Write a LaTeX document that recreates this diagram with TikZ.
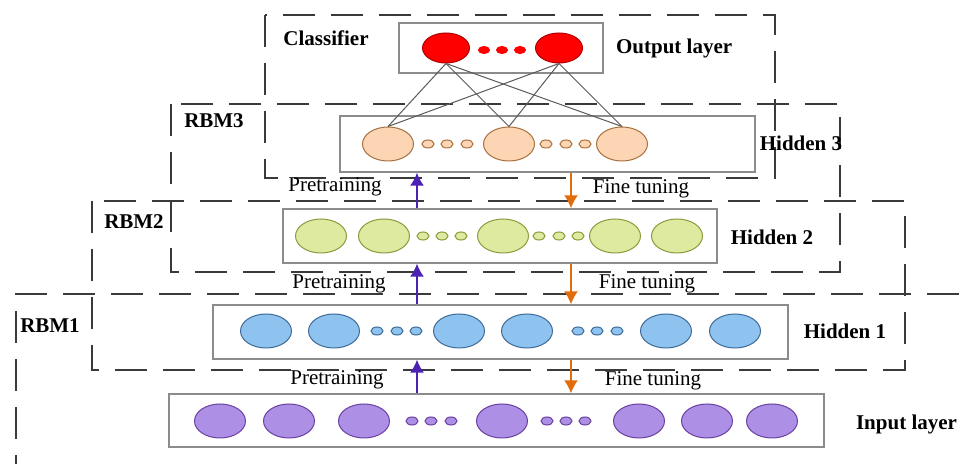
\documentclass[tikz,border=0pt]{standalone}
\usepackage{fontspec}
\setmainfont{Liberation Serif}
\usetikzlibrary{shapes.geometric,arrows.meta}

\definecolor{frame}{HTML}{3A3A3A}
\definecolor{boxline}{HTML}{8C8C8C}
\definecolor{wire}{HTML}{5A5A5A}
\definecolor{outfill}{HTML}{FF0000}
\definecolor{outline}{HTML}{B00000}
\definecolor{hthreefill}{HTML}{FCD5B4}
\definecolor{hthreeline}{HTML}{A8703C}
\definecolor{htwofill}{HTML}{DDEAA0}
\definecolor{htwoline}{HTML}{8A9A3C}
\definecolor{honefill}{HTML}{8FC3EF}
\definecolor{honeline}{HTML}{3D6A96}
\definecolor{infill}{HTML}{AD90E6}
\definecolor{inline}{HTML}{6A3FA0}
\definecolor{pre}{HTML}{4B22B4}
\definecolor{fine}{HTML}{E36C0A}

\tikzset{
  rbm/.style={draw=frame,line width=1pt,dash pattern=on 16pt off 8pt},
  layer/.style={draw=boxline,line width=0.7pt,fill=white,inner sep=0pt},
  unit/.style={ellipse,line width=0.5pt,inner sep=0pt,minimum width=25.5pt,minimum height=17pt},
  dotunit/.style={ellipse,line width=0.5pt,inner sep=0pt,minimum width=6pt,minimum height=4pt},
  tag/.style={font=\fontsize{10.5}{12}\selectfont\bfseries},
  note/.style={font=\fontsize{10.5}{12}\selectfont},
  up/.style={-{Latex[length=6.5pt,width=7pt]},draw=pre,line width=0.8pt},
  down/.style={-{Latex[length=6.5pt,width=7pt]},draw=fine,line width=0.8pt},
}

\begin{document}
\begin{tikzpicture}[x=0.5pt,y=-0.5pt]
\useasboundingbox (0,0) rectangle (959,464);

\draw [rbm] (265,15) rectangle (775,178);
\draw [rbm] (171,104) rectangle (840,272);
\draw [rbm] (92,201) rectangle (905,370);
\draw [rbm] (959,294) -- (16,294) -- (16,464);

\node [layer,minimum width=102pt,minimum height=25pt] (outbox) at (501,48) {};
\node [layer,minimum width=207.5pt,minimum height=28pt] (h3box) at (547.5,144) {};
\node [layer,minimum width=217pt,minimum height=27pt] (h2box) at (500,236) {};
\node [layer,minimum width=287.5pt,minimum height=27pt] (h1box) at (500.5,332) {};
\node [layer,minimum width=327.5pt,minimum height=26.5pt] (inbox) at (496.5,420.5) {};

\node [unit,draw=outline,fill=outfill,minimum width=23.5pt,minimum height=15pt] (o1) at (446,48) {};
\node [unit,draw=outline,fill=outfill,minimum width=23.5pt,minimum height=15pt] (o2) at (559,48) {};
\foreach \x in {484,502,520}
  \node [dotunit,draw=outfill,fill=outfill,minimum width=5.5pt,minimum height=3.5pt] at (\x,50) {};

\foreach \x/\n in {388/a,509/b,622/c}
  \node [unit,draw=hthreeline,fill=hthreefill] (h3\n) at (\x,144) {};
\foreach \x in {428,447,467,546,566,585}
  \node [dotunit,draw=hthreeline,fill=hthreefill] at (\x,144) {};

\foreach \x in {321,384,503,615,677}
  \node [unit,draw=htwoline,fill=htwofill] at (\x,236) {};
\foreach \x in {423,442,461,539,559,578}
  \node [dotunit,draw=htwoline,fill=htwofill] at (\x,236) {};

\foreach \x in {266,334,459,527,666,735}
  \node [unit,draw=honeline,fill=honefill] at (\x,331) {};
\foreach \x in {377,397,416,578,597,617}
  \node [dotunit,draw=honeline,fill=honefill] at (\x,331) {};

\foreach \x in {220,289,364,502,639,707,772}
  \node [unit,draw=inline,fill=infill] at (\x,421) {};
\foreach \x in {412,431,451,547,566,585}
  \node [dotunit,draw=inline,fill=infill] at (\x,421) {};

\foreach \o in {o1,o2}
  \foreach \h in {h3a,h3b,h3c}
    \draw [wire,line width=0.5pt] (\o.south) -- (\h.north);

\coordinate (pa) at (417,0);
\coordinate (fa) at (571,0);

\draw [up] (h2box.north -| pa) -- (h3box.south -| pa);
\draw [down] (h3box.south -| fa) -- (h2box.north -| fa);
\draw [up] (h1box.north -| pa) -- (h2box.south -| pa);
\draw [down] (h2box.south -| fa) -- (h1box.north -| fa);
\draw [up] (inbox.north -| pa) -- (h1box.south -| pa);
\draw [down] (h1box.south -| fa) -- (inbox.north -| fa);

\node [tag] (cls) at (326,38) {Classifier};
\node [tag,anchor=west] (outl) at (609,48) {Output layer};
\node [tag] (r3) at (214,121) {RBM3};
\node [tag] (r2) at (134,222) {RBM2};
\node [tag] (r1) at (50,326) {RBM1};
\node [tag] (h3l) at (801,143) {Hidden 3};
\node [tag] (h2l) at (772,237) {Hidden 2};
\node [tag] (h1l) at (845,331) {Hidden 1};
\node [tag,anchor=west] (inl) at (849,424) {Input layer};

\node [note] (p3) at (335,187) {Pretraining};
\node [note] (f3) at (641,189) {Fine tuning};
\node [note] (p2) at (339,284) {Pretraining};
\node [note] (f2) at (647,284) {Fine tuning};
\node [note] (p1) at (337,380) {Pretraining};
\node [note] (f1) at (653,381) {Fine tuning};

\end{tikzpicture}
\end{document}
